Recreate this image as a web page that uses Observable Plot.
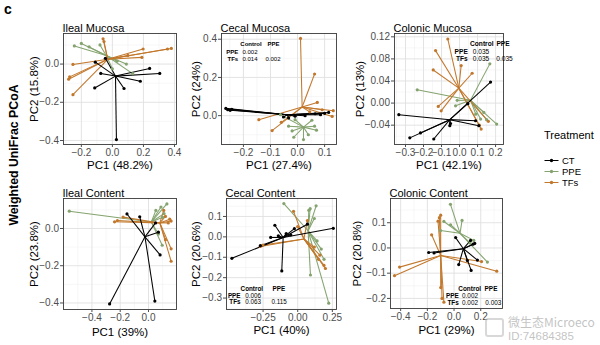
<!DOCTYPE html>
<html>
<head>
<meta charset="utf-8">
<script src="https://cdn.jsdelivr.net/npm/d3@7"></script>
<script src="https://cdn.jsdelivr.net/npm/@observablehq/plot@0.6"></script>
<style>
  html, body { margin: 0; padding: 0; background: #fff; }
  #root { position: relative; width: 600px; height: 345px; overflow: hidden; background: #fff;
          font-family: 'Liberation Sans', Arial, Helvetica, sans-serif; }
  .abs { position: absolute; white-space: nowrap; }
</style>
</head>
<body>
<div id="root"></div>
<script>
// ---------------- data ----------------
const groups = ["CT", "PPE", "TFs"];
const groupColors = ["#000000", "#84a36e", "#c2782c"];
const permHeader = ["Control", "PPE"];

// Ileal Mucosa
const ilealMucosaCT  = [[0.026,-0.395],[-0.114,-0.125],[-0.075,-0.049],[0.075,-0.128],[0.18,-0.09],[0.24,-0.023],[0.305,-0.049],[-0.11,0.01],[-0.045,0.03]];
const ilealMucosaPPE = [[-0.245,0.095],[-0.2,0.108],[-0.15,0.09],[-0.08,0.1],[0.13,-0.05],[0.09,0.0],[0.0,-0.025],[0.03,0.015]];
const ilealMucosaTFs = [[0.38,0.082],[0.355,0.079],[0.198,0.079],[0.19,0.035],[-0.254,-0.002],[-0.275,-0.067],[-0.282,-0.079],[-0.254,-0.16],[-0.06,0.132],[-0.054,0.118],[0.1,0.045]];
const ilealMucosaCentroids = [[0.02,-0.063],[-0.04,0.045],[-0.03,0.025]];
const ilealMucosaXTicks = [-0.2, 0, 0.2, 0.4];
const ilealMucosaYTicks = [-0.4, -0.2, 0];

// Cecal Mucosa
const cecalMucosaCT  = [[-0.265,0.038],[-0.258,0.031],[-0.249,0.028],[-0.243,0.033],[0.115,0.017],[0.1,0.012],[-0.009,-0.003],[0.028,0.0],[0.065,0.01],[-0.033,-0.012],[-0.052,-0.007],[0.085,0.005]];
const cecalMucosaPPE = [[-0.033,-0.055],[0.022,-0.125],[-0.014,-0.113],[0.063,-0.055],[0.07,-0.076],[0.053,-0.024],[-0.009,-0.021],[-0.063,0.005],[0.04,-0.1],[-0.02,-0.08]];
const cecalMucosaTFs = [[0.011,0.404],[0.063,0.218],[0.073,0.069],[0.132,0.026],[0.128,-0.004],[-0.143,-0.021],[-0.094,-0.078],[-0.06,-0.035],[0.091,0.031],[0.045,0.02]];
const cecalMucosaCentroids = [[-0.038,0.005],[0.022,-0.06],[0.017,0.045]];
const cecalMucosaXTicks = [-0.2, -0.1, 0, 0.1];
const cecalMucosaYTicks = [0, 0.2, 0.4];
const cecalMucosaPerm = [["PPE","0.002",""],["TFs","0.014","0.002"]];

// Colonic Mucosa
const colonicMucosaCT  = [[-0.337,-0.021],[-0.276,-0.063],[-0.217,-0.054],[-0.143,-0.065],[-0.054,-0.041],[-0.05,-0.037],[0.089,-0.032],[0.107,-0.041],[0.172,0.038],[0.046,-0.001]];
const colonicMucosaPPE = [[-0.235,0.024],[0.168,0.071],[0.206,-0.038],[-0.013,0.005],[-0.022,-0.005],[0.117,-0.029],[0.15,-0.03],[0.09,-0.02],[0.135,-0.017]];
const colonicMucosaTFs = [[-0.065,0.116],[-0.133,0.095],[-0.146,0.06],[0.009,0.068],[0.07,0.054],[-0.118,-0.006],[-0.102,-0.014],[0.12,-0.047],[0.11,-0.04],[0.16,-0.033]];
const colonicMucosaCentroids = [[-0.054,-0.03],[0.061,0.005],[-0.004,0.027]];
const colonicMucosaXTicks = [-0.3, -0.2, -0.1, 0, 0.1, 0.2];
const colonicMucosaYTicks = [-0.04, 0, 0.04, 0.08, 0.12];
const colonicMucosaPerm = [["PPE","0.035",""],["TFs","0.035","0.035"]];

// Ileal Content
const ilealContentCT  = [[-0.275,-0.405],[0.045,-0.39],[0.082,-0.142],[-0.152,0.078],[-0.062,0.063],[0.07,-0.02],[0.05,0.03]];
const ilealContentPPE = [[-0.56,0.093],[0.13,0.132],[0.088,0.115],[0.052,0.097],[0.1,0.06],[0.097,-0.09],[0.07,-0.03],[0.11,0.08]];
const ilealContentTFs = [[-0.24,0.036],[-0.22,0.043],[-0.18,0.061],[0.16,0.04],[0.15,0.05],[0.12,0.065],[0.16,-0.109],[0.16,-0.176],[0.108,0.097],[0.14,0.03],[0.12,-0.06]];
const ilealContentCentroids = [[-0.025,-0.045],[0.02,0.035],[0.08,0.03]];
const ilealContentXTicks = [-0.4, -0.2, 0];
const ilealContentYTicks = [-0.4, -0.2, 0];

// Cecal Content
const cecalContentCT  = [[-0.475,-0.105],[0.257,0.042],[-0.115,-0.167],[-0.165,0.057],[-0.27,-0.043],[-0.195,-0.003],[-0.14,0.005],[-0.083,0.016],[-0.024,0.04],[0.07,0.062],[-0.05,0.01]];
const cecalContentPPE = [[-0.1,0.163],[0.09,0.138],[0.133,0.152],[0.08,0.13],[0.092,-0.187],[0.224,-0.325],[0.17,-0.06],[0.14,-0.02],[0.19,-0.11],[0.12,0.09]];
const cecalContentTFs = [[-0.03,0.125],[-0.27,-0.047],[-0.25,-0.04],[0.19,-0.14],[0.2,-0.155],[0.07,0.08],[0.16,-0.09],[0.12,-0.05],[0.0,0.05],[0.15,-0.11]];
const cecalContentCentroids = [[-0.105,-0.003],[0.075,0.03],[0.045,-0.01]];
const cecalContentXTicks = [-0.25, 0, 0.25];
const cecalContentYTicks = [-0.3, -0.2, -0.1, 0, 0.1];
const cecalContentPerm = [["PPE","0.006",""],["TFs","0.063","0.115"]];

// Colonic Content
const colonicContentCT  = [[-0.19,-0.018],[0.012,0.041],[0.143,0.015],[0.155,0.018],[0.128,-0.089],[0.035,-0.066],[0.175,-0.048],[0.124,0.03],[0.1,-0.05],[-0.15,-0.02]];
const colonicContentPPE = [[-0.027,0.173],[-0.076,0.105],[-0.026,0.092],[0.06,0.109],[-0.101,0.069],[0.25,-0.056],[0.148,0.03],[0.12,0.02]];
const colonicContentTFs = [[-0.408,-0.076],[-0.446,-0.11],[-0.1,0.13],[-0.12,0.106],[-0.168,0.052],[-0.1,-0.157],[-0.076,-0.215],[0.32,-0.092],[0.206,-0.054],[-0.09,-0.2],[-0.11,0.12]];
const colonicContentCentroids = [[0.07,-0.003],[0.045,0.058],[-0.1,-0.03]];
const colonicContentXTicks = [-0.4, -0.2, 0, 0.2];
const colonicContentYTicks = [-0.2, -0.1, 0, 0.1];
const colonicContentPerm = [["PPE","0.002",""],["TFs","0.002","0.003"]];

// ---------------- layout / rendering ----------------
const FONT = "'Liberation Sans', Arial, Helvetica, sans-serif";
const root = document.getElementById("root");

const panels = [
  {title:"Ileal Mucosa", xLabel:"PC1 (48.2%)", yLabel:"PC2 (15.8%)",
   pts:[ilealMucosaCT, ilealMucosaPPE, ilealMucosaTFs], cen: ilealMucosaCentroids,
   xTicks: ilealMucosaXTicks, yTicks: ilealMucosaYTicks, xFmt:".1f", yFmt:".1f",
   frame:{L:63,R:176,T:33,B:144}, xDomain:[-0.315,0.413], yDomain:[-0.421,0.16], yTitleDx:-29, xTitleDy:21},
  {title:"Cecal Mucosa", xLabel:"PC1 (27.4%)", yLabel:"PC2 (24%)",
   pts:[cecalMucosaCT, cecalMucosaPPE, cecalMucosaTFs], cen: cecalMucosaCentroids,
   xTicks: cecalMucosaXTicks, yTicks: cecalMucosaYTicks, xFmt:".1f", yFmt:".1f",
   frame:{L:221,R:336,T:33,B:144}, xDomain:[-0.281,0.144], yDomain:[-0.151,0.43], yTitleDx:-25, xTitleDy:21,
   perm: cecalMucosaPerm, permStyle:{fs:6, hy:11, rows:[18.5,25.5], lr:16.7, cols:[28.5,51.5], hcols:[29.5,52]}},
  {title:"Colonic Mucosa", xLabel:"PC1 (42.1%)", yLabel:"PC2 (13%)",
   pts:[colonicMucosaCT, colonicMucosaPPE, colonicMucosaTFs], cen: colonicMucosaCentroids,
   xTicks: colonicMucosaXTicks, yTicks: colonicMucosaYTicks, xFmt:".1f", yFmt:".2f",
   frame:{L:394,R:503,T:33,B:144}, xDomain:[-0.361,0.244], yDomain:[-0.075,0.126], yTitleDx:-34, xTitleDy:21,
   perm: colonicMucosaPerm, permStyle:{fs:6.6, hy:10.8, rows:[18.2,25.4], lr:73.3, cols:[86.5,110], hcols:[87.3,108.5]}},
  {title:"Ileal Content", xLabel:"PC1 (39%)", yLabel:"PC2 (23.8%)",
   pts:[ilealContentCT, ilealContentPPE, ilealContentTFs], cen: ilealContentCentroids,
   xTicks: ilealContentXTicks, yTicks: ilealContentYTicks, xFmt:".1f", yFmt:".1f",
   frame:{L:63,R:176,T:198,B:309}, xDomain:[-0.601,0.198], yDomain:[-0.435,0.161], yTitleDx:-29, xTitleDy:23},
  {title:"Cecal Content", xLabel:"PC1 (40%)", yLabel:"PC2 (20.6%)",
   pts:[cecalContentCT, cecalContentPPE, cecalContentTFs], cen: cecalContentCentroids,
   xTicks: cecalContentXTicks, yTicks: cecalContentYTicks, xFmt:".2f", yFmt:".1f",
   frame:{L:226,R:336,T:198,B:309}, xDomain:[-0.514,0.28], yDomain:[-0.356,0.188], yTitleDx:-30, xTitleDy:21,
   perm: cecalContentPerm, permStyle:{fs:6.3, hy:90.5, rows:[97,103.6], lr:14, cols:[26.5,52.7], hcols:[25.3,52.3]}},
  {title:"Colonic Content", xLabel:"PC1 (29%)", yLabel:"PC2 (20.8%)",
   pts:[colonicContentCT, colonicContentPPE, colonicContentTFs], cen: colonicContentCentroids,
   xTicks: colonicContentXTicks, yTicks: colonicContentYTicks, xFmt:".1f", yFmt:".1f",
   frame:{L:390,R:502,T:198,B:308}, xDomain:[-0.476,0.363], yDomain:[-0.24,0.196], yTitleDx:-33, xTitleDy:22,
   perm: colonicContentPerm, permStyle:{fs:6.4, hy:90.8, rows:[97.6,104.3], lr:68.3, cols:[79.5,102.8], hcols:[79.2,100.5]}}
];

function minors(ticks, domain) {
  const step = ticks[1] - ticks[0];
  const out = [];
  for (let v = ticks[0] - step / 2; v >= Math.min(...domain) - 1e-9; v -= step) out.push(v);
  for (let v = ticks[0] + step / 2; v <= Math.max(...domain) + 1e-9; v += step) out.push(v);
  return out;
}

function txt(str, o) {
  return Plot.text([str], Object.assign({frameAnchor: "top-left", text: d => d, fill: "black", lineAnchor: "middle"}, o));
}

function renderPanel(cfg) {
  const {L, R, T, B} = cfg.frame;
  const mL = 60, mR = 30, mT = 30, mB = 40;
  const rows = [];
  for (const gi of [1, 2, 0]) {
    const c = cfg.cen[gi];
    for (const p of cfg.pts[gi]) rows.push({g: groups[gi], x: p[0], y: p[1], cx: c[0], cy: c[1]});
  }
  const marks = [
    Plot.gridX(minors(cfg.xTicks, cfg.xDomain), {stroke: "#eeeeee", strokeOpacity: 1, strokeWidth: 0.5}),
    Plot.gridY(minors(cfg.yTicks, cfg.yDomain), {stroke: "#eeeeee", strokeOpacity: 1, strokeWidth: 0.5}),
    Plot.gridX(cfg.xTicks, {stroke: "#e0e0e0", strokeOpacity: 1, strokeWidth: 0.9}),
    Plot.gridY(cfg.yTicks, {stroke: "#e0e0e0", strokeOpacity: 1, strokeWidth: 0.9}),
    Plot.link(rows, {x1: "x", y1: "y", x2: "cx", y2: "cy", stroke: "g", strokeWidth: 1.05}),
    Plot.dot(rows, {x: "x", y: "y", fill: "g", r: 1.6}),
    Plot.frame({stroke: "#3a3a3a", strokeWidth: 0.9}),
    Plot.axisX(cfg.xTicks, {tickSize: 3, tickPadding: 1.5, tickFormat: d3.format(cfg.xFmt), fontSize: 10, color: "#4d4d4d", label: null}),
    Plot.axisY(cfg.yTicks, {tickSize: 3, tickPadding: 1.5, tickFormat: d3.format(cfg.yFmt), fontSize: 10, color: "#4d4d4d", label: null}),
    Plot.text([cfg.title], {frameAnchor: "top-left", text: d => d, dx: -1, dy: -2, textAnchor: "start", lineAnchor: "bottom", fontSize: 11, fill: "black"}),
    Plot.text([cfg.xLabel], {frameAnchor: "bottom", text: d => d, dy: cfg.xTitleDy, lineAnchor: "middle", fontSize: 11.5, fill: "black"}),
    Plot.text([cfg.yLabel], {frameAnchor: "left", text: d => d, dx: cfg.yTitleDx, rotate: -90, lineAnchor: "middle", textAnchor: "middle", fontSize: 11.5, fill: "black"})
  ];
  if (cfg.perm) {
    const s = cfg.permStyle;
    permHeader.forEach((h, i) => marks.push(txt(h, {dx: s.hcols[i], dy: s.hy, textAnchor: "middle", fontSize: s.fs, fontWeight: "bold"})));
    cfg.perm.forEach((r, ri) => {
      marks.push(txt(r[0], {dx: s.lr, dy: s.rows[ri], textAnchor: "end", fontSize: s.fs, fontWeight: "bold"}));
      [r[1], r[2]].forEach((v, ci) => { if (v) marks.push(txt(v, {dx: s.cols[ci], dy: s.rows[ri], textAnchor: "middle", fontSize: s.fs})); });
    });
  }
  const plot = Plot.plot({
    width: mL + (R - L) + mR, height: mT + (B - T) + mB,
    marginLeft: mL, marginRight: mR, marginTop: mT, marginBottom: mB,
    x: {domain: cfg.xDomain}, y: {domain: cfg.yDomain},
    color: {domain: groups, range: groupColors},
    style: {fontFamily: FONT, background: "transparent", overflow: "visible", color: "black"},
    marks
  });
  plot.style.position = "absolute";
  plot.style.left = (L - mL) + "px";
  plot.style.top = (T - mT) + "px";
  root.appendChild(plot);
}

panels.forEach(renderPanel);

// legend drawn with Plot scales
const legLeft = 538, legTop = 125;
const legend = Plot.plot({
  width: 62, height: 75, margin: 0,
  x: {domain: [0, 1], range: [544 - legLeft, 558 - legLeft], axis: null},
  y: {type: "point", domain: groups, range: [153.5 - legTop, 188.5 - legTop], axis: null},
  color: {domain: groups, range: groupColors},
  style: {fontFamily: FONT, background: "transparent", overflow: "visible", color: "black"},
  marks: [
    Plot.text(["Treatment"], {frameAnchor: "top-left", text: d => d, dx: 543.5 - legLeft, dy: 135 - legTop, textAnchor: "start", lineAnchor: "middle", fontSize: 11, fill: "black"}),
    Plot.link(groups, {x1: () => 0, x2: () => 1, y1: d => d, y2: d => d, stroke: d => d, strokeWidth: 1.05}),
    Plot.dot(groups, {x: () => 0.5, y: d => d, fill: d => d, r: 1.7}),
    Plot.text(groups, {x: () => 1, y: d => d, text: d => d, dx: 3.5, textAnchor: "start", fontSize: 9.5, fill: "black"})
  ]
});
legend.style.position = "absolute";
legend.style.left = legLeft + "px";
legend.style.top = legTop + "px";
root.appendChild(legend);

// figure-level texts
function addText(str, css) {
  const el = document.createElement("div");
  el.className = "abs";
  el.textContent = str;
  Object.assign(el.style, css);
  root.appendChild(el);
  return el;
}
addText("c", {left: "4px", top: "1px", fontSize: "14px", fontWeight: "bold", lineHeight: "16px"});
addText("Weighted UniFrac PCoA", {left: "14px", top: "155px", fontSize: "12.3px", fontWeight: "bold",
  transform: "translate(-50%, -50%) rotate(-90deg)", lineHeight: "14px"});

// watermark
const logo = document.createElement("div");
logo.className = "abs";
Object.assign(logo.style, {left: "485px", top: "318px", width: "19px", height: "19px", border: "2px solid rgba(190,190,190,0.6)", borderRadius: "3px", boxSizing: "border-box"});
root.appendChild(logo);
addText("微生态Microeco", {left: "508px", top: "315px", fontSize: "12px", color: "rgba(175,175,175,0.75)", lineHeight: "14px", fontFamily: "'Noto Sans CJK SC', " + FONT});
addText("ID:74684385", {left: "508px", top: "330px", fontSize: "11.5px", color: "rgba(175,175,175,0.75)", lineHeight: "13px"});
</script>
</body>
</html>
